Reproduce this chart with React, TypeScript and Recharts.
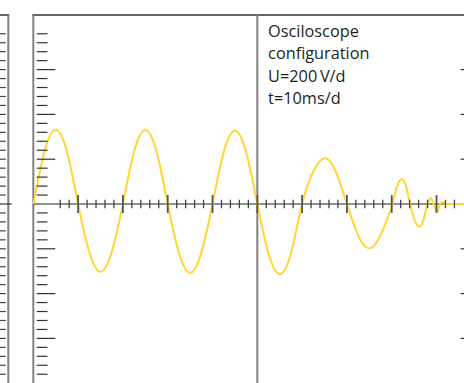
import React from 'react';
import { LineChart, Line, XAxis, YAxis, ReferenceLine } from 'recharts';

// Oscilloscope trace: time in ms, voltage in V
// steady part (four cycles)
const timeMs = [
  0, 2.5, 5, 7.5, 10, 12.5, 15, 17.5,
  20, 22.5, 25, 27.5, 30, 32.5, 35, 37.5,
  40, 42.5, 45, 47.5, 50, 52.5, 55, 57.5,
  60, 62.5, 65, 67.5, 70, 72.5, 75, 77.5, 80.2,
];
const voltage = [
  0, 234, 331, 234, 0, -214, -303, -214,
  0, 234, 330, 234, 0, -217, -307, -217,
  0, 232, 327, 232, 0, -221, -313, -221,
  0, 145, 204, 145, 0, -140, -198, -140, 0,
];
// dying tail
const tailTimeMs = [80.2, 81.2, 82.2, 83.2, 84.1, 85.1, 86.2, 87.1, 88.0, 88.7, 89.3, 90.2, 90.8, 91.5, 91.9, 96.2];
const tailVoltage = [0, 80, 112, 80, 0, -72, -101, -72, 0, 28, 0, -34, 0, 9, 0, 0];

// Screen settings (U = 200 V/div, t = 10 ms/div, 5 minor steps per division)
const infoLines = ['Osciloscope', 'configuration', 'U=200\u2009V/d', 't=10ms/d'];
const MS_PER_DIV = 10;
const V_PER_DIV = 200;
const MINOR_PER_DIV = 5;

// tick positions
const xMinorStepMs = MS_PER_DIV / MINOR_PER_DIV;
const xTicks: number[] = [];
for (let t = 6; t <= 94; t += xMinorStepMs) xTicks.push(t);
const yStepV = V_PER_DIV / MINOR_PER_DIV;
const yTicks: number[] = [];
for (let k = -19; k <= 19; k++) if (k !== 0) yTicks.push(k * yStepV);
const rightTicks = [-600, -400, -200, 200, 400, 600];

const data = timeMs.map((t, i) => ({ t, v: voltage[i] }));
const tailData = tailTimeMs.map((t, i) => ({ t, v: tailVoltage[i] }));

// layout (pixels)
const W = 464;
const H = 383;
const PX0 = 33.3; // x pixel of t = 0
const PX_PER_MS = 4.48;
const PY0 = 204; // y pixel of 0 V
const PX_PER_V = 0.224;
const toT = (px: number) => (px - PX0) / PX_PER_MS;
const toV = (py: number) => (PY0 - py) / PX_PER_V;
const X_MIN = toT(0);
const X_MAX = toT(W);
const Y_MAX = toV(0);
const Y_MIN = toV(H);
const TOP_V = toV(15);

const INK = '#231f20';
const GRAY = '#808080';
const TRACE = '#FFD633';

const InfoLabel = (props: any) => {
  const vb = props.viewBox || {};
  const x = (vb.x ?? 0) + 10.8;
  const y = (vb.y ?? 0) + 21.8;
  return (
    <text x={x} y={y} fill={INK} fontFamily="'Open Sans', sans-serif" fontSize={16.3}>
      {infoLines.map((l, i) => (
        <tspan key={i} x={x} y={y + i * 22.5}>
          {l}
        </tspan>
      ))}
    </text>
  );
};

const seg = (x1: number, y1: number, x2: number, y2: number) => [
  { x: x1, y: y1 },
  { x: x2, y: y2 },
];

export default function App() {
  return (
    <div style={{ position: 'absolute', left: 0, top: 0, width: W, height: H, background: '#fff' }}>
      <LineChart width={W} height={H} data={data} margin={{ top: 0, right: 0, bottom: 0, left: 0 }}>
        <XAxis type="number" dataKey="t" domain={[X_MIN, X_MAX]} allowDataOverflow hide />
        <YAxis type="number" domain={[Y_MIN, Y_MAX]} allowDataOverflow hide />

        {/* left (neighbour) panel */}
        <ReferenceLine segment={seg(X_MIN, TOP_V, toT(9.3), TOP_V)} stroke="#333" strokeWidth={1.5} ifOverflow="visible" />
        <ReferenceLine segment={seg(toT(8.3), TOP_V, toT(8.3), Y_MIN)} stroke={GRAY} strokeWidth={2} ifOverflow="visible" />
        {yTicks.map((v) => (
          <ReferenceLine key={'l' + v} segment={seg(X_MIN, v, toT(5.8), v)} stroke="#444" strokeWidth={1.2} ifOverflow="visible" />
        ))}
        <ReferenceLine segment={seg(X_MIN, 0, toT(11.7), 0)} stroke="#333" strokeWidth={1.2} ifOverflow="visible" />

        {/* main panel frame */}
        <ReferenceLine segment={seg(toT(32.3), TOP_V, X_MAX, TOP_V)} stroke="#333" strokeWidth={1.5} ifOverflow="visible" />
        <ReferenceLine segment={seg(0, TOP_V, 0, Y_MIN)} stroke={GRAY} strokeWidth={2} ifOverflow="visible" />
        <ReferenceLine
          segment={seg(50, TOP_V, 50, Y_MIN)}
          stroke={GRAY}
          strokeWidth={2}
          ifOverflow="visible"
          label={(p: any) => <InfoLabel {...p} />}
        />
        <ReferenceLine segment={seg(0, 0, X_MAX, 0)} stroke="#222" strokeWidth={1.2} ifOverflow="visible" />

        <Line
          type="natural"
          data={data}
          dataKey="v"
          stroke={TRACE}
          strokeWidth={2}
          dot={false}
          activeDot={false}
          isAnimationActive={false}
        />
        <Line
          type="monotone"
          data={tailData}
          dataKey="v"
          stroke={TRACE}
          strokeWidth={2}
          dot={false}
          activeDot={false}
          isAnimationActive={false}
        />

        {/* time ticks on the 0 V line */}
        {xTicks.map((t) => {
          const major = Math.abs(t % MS_PER_DIV) < 1e-6;
          const h = major ? 40 : 19;
          return (
            <ReferenceLine
              key={'x' + t}
              segment={seg(t, -h, t, h)}
              stroke={major ? '#555' : '#444'}
              strokeWidth={major ? 1.8 : 1.3}
              ifOverflow="visible"
            />
          );
        })}

        {/* voltage ticks on the left edge */}
        {yTicks.map((v) => {
          const major = Math.abs(v % V_PER_DIV) < 1e-6;
          return (
            <ReferenceLine
              key={'y' + v}
              segment={seg(toT(36.7), v, toT(major ? 55.3 : 47.5), v)}
              stroke="#333"
              strokeWidth={1.2}
              ifOverflow="visible"
            />
          );
        })}

        {/* major ticks at the right edge */}
        {rightTicks.map((v) => (
          <ReferenceLine key={'r' + v} segment={seg(toT(460.6), v, X_MAX, v)} stroke="#333" strokeWidth={1.2} ifOverflow="visible" />
        ))}
      </LineChart>
    </div>
  );
}
